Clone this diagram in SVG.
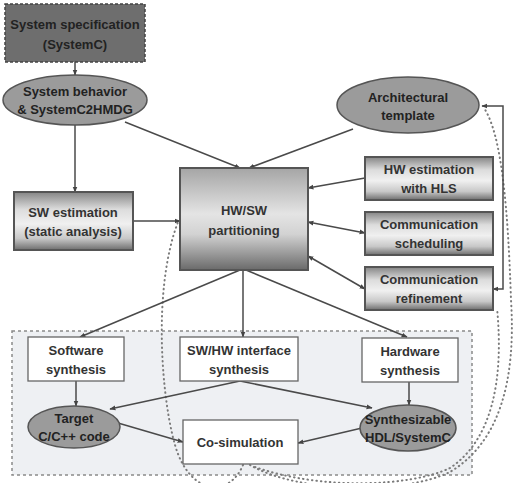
<svg xmlns="http://www.w3.org/2000/svg" width="515" height="483" viewBox="0 0 515 483">
<defs>
<linearGradient id="gBox" x1="0" y1="0" x2="0" y2="1">
<stop offset="0" stop-color="#858585"/>
<stop offset="0.3" stop-color="#dcdcdc"/>
<stop offset="0.55" stop-color="#f0f0f0"/>
<stop offset="0.8" stop-color="#c8c8c8"/>
<stop offset="1" stop-color="#6e6e6e"/>
</linearGradient>
<linearGradient id="gPart" x1="0" y1="0" x2="0" y2="1">
<stop offset="0" stop-color="#a5a5a5"/>
<stop offset="0.45" stop-color="#e4e4e4"/>
<stop offset="0.65" stop-color="#d2d2d2"/>
<stop offset="1" stop-color="#6a6a6a"/>
</linearGradient>
<marker id="ah" viewBox="0 0 10 10" refX="9" refY="5" markerWidth="6" markerHeight="6" orient="auto-start-reverse" markerUnits="userSpaceOnUse">
<path d="M0,1 L10,5 L0,9 z" fill="#444"/>
</marker>
</defs>
<style>
text{font-family:"Liberation Sans",Arial,sans-serif;font-weight:bold;font-size:13px;fill:#333;text-anchor:middle}
.dark text{fill:#222}
.ell{fill:#9b9b9b;stroke:#555;stroke-width:1.5}
.gbox{fill:url(#gBox);stroke:#555;stroke-width:2}
.wbox{fill:#ffffff;stroke:#666;stroke-width:1.3}
.c{fill:none;stroke:#4a4a4a;stroke-width:1.5}
.dot{fill:none;stroke:#7a7a7a;stroke-width:2;stroke-dasharray:0.5 4;stroke-linecap:round}
</style>
<rect width="515" height="483" fill="#ffffff"/>

<g id="container">
<rect x="12" y="331" width="460" height="144" fill="#eef0f3" stroke="#8a8a8a" stroke-width="1.5" stroke-dasharray="3 3"/>
</g>

<g id="connectors">
<path class="dot" d="M243,465 C230,497 190,497 175,445 C162,400 152,290 178,222"/>
<path class="dot" d="M250,465 C300,494 405,494 450,472 C500,442 516,380 511,300 C508,210 502,135 484,108"/>
<path class="dot" d="M255,467 C320,490 410,487 450,468 C492,440 504,380 497,308"/>
<line class="c" x1="75" y1="62" x2="75" y2="75" marker-end="url(#ah)"/>
<line class="c" x1="75" y1="125" x2="75" y2="192" marker-end="url(#ah)"/>
<line class="c" x1="125" y1="122" x2="240" y2="168" marker-end="url(#ah)"/>
<line class="c" x1="353" y1="129" x2="249" y2="168" marker-end="url(#ah)"/>
<line class="c" x1="133" y1="221" x2="180" y2="221" marker-end="url(#ah)"/>
<line class="c" x1="365" y1="178" x2="308" y2="188" marker-end="url(#ah)"/>
<line class="c" x1="308" y1="222" x2="365" y2="233" marker-start="url(#ah)" marker-end="url(#ah)"/>
<line class="c" x1="308" y1="256" x2="365" y2="289" marker-start="url(#ah)" marker-end="url(#ah)"/>
<polyline class="c" points="482,106 503,106 503,289 493,289" marker-start="url(#ah)" marker-end="url(#ah)"/>
<line class="c" x1="240" y1="270" x2="80" y2="337" marker-end="url(#ah)"/>
<line class="c" x1="243" y1="270" x2="243" y2="337" marker-end="url(#ah)"/>
<line class="c" x1="246" y1="270" x2="407" y2="337" marker-end="url(#ah)"/>
<line class="c" x1="76" y1="381" x2="76" y2="406" marker-end="url(#ah)"/>
<line class="c" x1="240" y1="381" x2="110" y2="409" marker-end="url(#ah)"/>
<line class="c" x1="240" y1="381" x2="372" y2="408" marker-end="url(#ah)"/>
<line class="c" x1="409" y1="382" x2="409" y2="405" marker-end="url(#ah)"/>
<line class="c" x1="118" y1="423" x2="183" y2="442" marker-end="url(#ah)"/>
<line class="c" x1="362" y1="428" x2="298" y2="443" marker-end="url(#ah)"/>
</g>

<g id="spec" class="dark">
<rect x="5" y="4" width="140" height="58" fill="#6e6e6e" stroke="#444" stroke-width="1.5" stroke-dasharray="3 2"/>
<text x="75" y="29">System specification</text>
<text x="75" y="49">(SystemC)</text>
</g>

<g id="behavior" class="dark">
<ellipse class="ell" cx="75" cy="100" rx="72" ry="25"/>
<text x="75" y="96">System behavior</text>
<text x="75" y="114">&amp; SystemC2HMDG</text>
</g>

<g id="arch" class="dark">
<ellipse class="ell" cx="408" cy="105" rx="71" ry="28"/>
<text x="408" y="102">Architectural</text>
<text x="408" y="120">template</text>
</g>

<g id="sw-est">
<rect class="gbox" x="14" y="192" width="119" height="58"/>
<text x="73" y="217">SW estimation</text>
<text x="73" y="236">(static analysis)</text>
</g>

<g id="partition">
<rect x="180" y="168" width="128" height="102" fill="url(#gPart)" stroke="#555" stroke-width="2"/>
<text x="244" y="215">HW/SW</text>
<text x="244" y="235">partitioning</text>
</g>

<g id="hw-est">
<rect class="gbox" x="365" y="157" width="128" height="43"/>
<text x="429" y="174">HW estimation</text>
<text x="429" y="193">with HLS</text>
</g>

<g id="comm-sched">
<rect class="gbox" x="365" y="212" width="128" height="43"/>
<text x="429" y="229">Communication</text>
<text x="429" y="248">scheduling</text>
</g>

<g id="comm-ref">
<rect class="gbox" x="365" y="267" width="128" height="43"/>
<text x="429" y="284">Communication</text>
<text x="429" y="303">refinement</text>
</g>

<g id="sw-synth">
<rect class="wbox" x="28" y="337" width="96" height="44"/>
<text x="76" y="355">Software</text>
<text x="76" y="374">synthesis</text>
</g>

<g id="if-synth">
<rect class="wbox" x="180" y="337" width="118" height="44"/>
<text x="239" y="355">SW/HW interface</text>
<text x="239" y="374">synthesis</text>
</g>

<g id="hw-synth">
<rect class="wbox" x="362" y="338" width="96" height="44"/>
<text x="410" y="356">Hardware</text>
<text x="410" y="375">synthesis</text>
</g>

<g id="target" class="dark">
<ellipse class="ell" cx="74" cy="427" rx="46" ry="21"/>
<text x="74" y="423">Target</text>
<text x="74" y="441">C/C++ code</text>
</g>

<g id="hdl" class="dark">
<ellipse class="ell" cx="408" cy="428" rx="48" ry="23"/>
<text x="408" y="424">Synthesizable</text>
<text x="408" y="442">HDL/SystemC</text>
</g>

<g id="cosim">
<rect class="wbox" x="183" y="420" width="115" height="44"/>
<text x="240" y="447">Co-simulation</text>
</g>
</svg>
